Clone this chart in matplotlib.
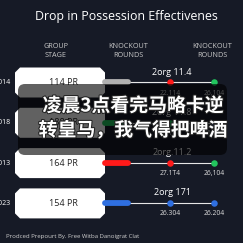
import matplotlib
matplotlib.use("Agg")
import matplotlib.pyplot as plt
from matplotlib.patches import Polygon, FancyBboxPatch
import matplotlib.patheffects as pe

# ---- data ----
title = "Drop in Possession Effectivenes"
headers = ["GROUP\nSTAGE", "KNOCKOUT\nROUNDS", "KNOCKOUT\nROUNDS"]
years = ["2014", "2018", "2013", "2023"]
box_labels = ["114 PR", "188 PR", "164 PR", "154 PR"]
bar_colors = ["#b0b0b0", "#22c55e", "#ff1a1a", "#2f6fe0"]
dot1_colors = ["#ff1a1a", "#22c55e", "#ff1a1a", "#2f6fe0"]
dot2_colors = ["#22c55e", "#2f6fe0", "#22c55e", "#2f6fe0"]
dot1_labels = ["22.114", "28.114", "27.1T4", "26.304"]
dot2_labels = ["26,104", "26,104", "26,104", "26.204"]
top_labels = ["2org 11.4", "2org 11.8", "2org.11.2", "2org 171"]
footer = "Prodced Prepourt By. Free Witba Danoigrat Clat"
caption = ["凌晨3点看完马略卡逆", "转皇马，我气得把啤酒"]

# ---- layout ----
BG = "#161a26"
W = 243
fig = plt.figure(figsize=(2.43, 2.43), dpi=100, facecolor=BG)
ax = fig.add_axes([0, 0, 1, 1])
ax.set_xlim(0, W)
ax.set_ylim(W, 0)
ax.axis("off")
ax.set_facecolor(BG)

font = "Open Sans"
ax.text(126, 16.5, title, color="white", fontsize=8.9, ha="center", va="center", family=font)

head_x = [56, 128, 212]
for hx, h in zip(head_x, headers):
    ax.text(hx, 51, h, color="#c8c8c8", fontsize=5.2, ha="center", va="center",
            family=font, linespacing=1.45)

row_y0, row_dy = 82.5, 40.3
box_l, box_r, box_h, cham = 15, 105, 30, 5
bar_end = 128
dot1_x, dot2_x = 170, 214

for i in range(len(years)):
    y = row_y0 + i * row_dy
    ax.text(11, y, years[i], color="white", fontsize=5, ha="right", va="center", family=font)
    t, b = y - box_h / 2, y + box_h / 2
    poly = [(box_l + cham, t), (box_r - cham, t), (box_r, t + cham), (box_r, b - cham),
            (box_r - cham, b), (box_l + cham, b), (box_l, b - cham), (box_l, t + cham)]
    ax.add_patch(Polygon(poly, closed=True, facecolor="white", edgecolor="none", zorder=2))
    ax.text((box_l + box_r) / 2 + 3, y, box_labels[i], color="#222222", fontsize=6.5,
            ha="center", va="center", family=font, zorder=3)
    ax.plot([box_r, bar_end], [y, y], color=bar_colors[i], lw=4.2,
            solid_capstyle="round", zorder=2)
    ax.plot([bar_end, dot2_x], [y, y], color="#e6e6e6", lw=0.8, zorder=1)
    ax.scatter([dot1_x], [y], s=22, color=dot1_colors[i], zorder=3, linewidths=0)
    ax.scatter([dot2_x], [y], s=22, color=dot2_colors[i], zorder=3, linewidths=0)
    ax.text(dot1_x, y + 10.5, dot1_labels[i], color="#dddddd", fontsize=4.9,
            ha="center", va="center", family=font)
    ax.text(dot2_x, y + 10.5, dot2_labels[i], color="#dddddd", fontsize=4.9,
            ha="center", va="center", family=font)
    ax.text(dot1_x + 2, y - 10.5, top_labels[i], color="white", fontsize=6.5,
            ha="center", va="center", family=font)

ax.text(6, 236.5, footer, color="#d0d0d0", fontsize=4.3, ha="left", va="center", family=font)

# caption overlay
ax.add_patch(FancyBboxPatch((18, 84), 209, 71, boxstyle="round,pad=0,rounding_size=7",
                            facecolor="black", alpha=0.62, edgecolor="none", zorder=5))
for j, line in enumerate(caption):
    ax.text(133, 106 + j * 24.5, line, color="white", fontsize=13.6, ha="center",
            va="center", family=["Noto Sans CJK SC", "DejaVu Sans"], fontweight="bold",
            zorder=6, path_effects=[pe.withStroke(linewidth=1.5, foreground="#222222")])

fig.savefig("out.png", dpi=100, facecolor=BG)
